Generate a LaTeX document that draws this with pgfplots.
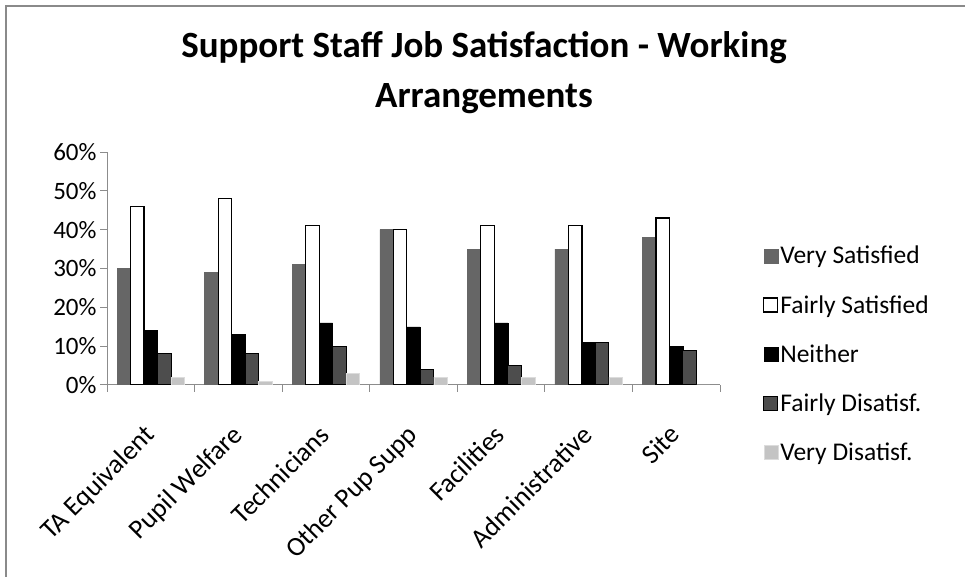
\documentclass[border=0pt]{standalone}
\usepackage{fontspec}
\setmainfont{Carlito}
\usepackage{pgfplots}
\pgfplotsset{compat=1.18}
\definecolor{vsat}{HTML}{666666}
\definecolor{fdis}{HTML}{4D4D4D}
\definecolor{vdis}{HTML}{C4C4C4}
\definecolor{axgray}{HTML}{8C8C8C}
\definecolor{framegray}{HTML}{8A8A8A}
\begin{document}
\begin{tikzpicture}[x=1pt,y=1pt]
\begin{axis}[
  scale only axis,
  width=613pt, height=233pt,
  ybar=0pt, bar width=0.154,
  xmin=-0.5, xmax=6.5, ymin=0, ymax=60,
  axis x line*=bottom, axis y line*=left,
  axis line style={axgray, line width=1pt},
  tick style={axgray, line width=1pt},
  tick align=outside, major tick length=7pt,
  ytick={0,10,...,60},
  yticklabel={\pgfmathprintnumber{\tick}\%},
  /pgf/number format/assume math mode=true,
  tick label style={font=\fontsize{25}{30}\selectfont, black},
  xtick={-0.5,0.5,...,6.5}, xticklabels={},
  extra x ticks={0,1,2,3,4,5,6},
  extra x tick labels={TA Equivalent,Pupil Welfare,Technicians,Other Pup Supp,Facilities,Administrative,Site},
  extra x tick style={major tick length=0pt, xticklabel style={xshift=-8pt, yshift=-38pt, rotate=45, anchor=north east, inner sep=0pt, font=\fontsize{27}{32}\selectfont}},
  legend style={at={(axis description cs:1.07,0.605)}, anchor=north west, draw=none, fill=none,
    font=\fontsize{25.5}{30}\selectfont, row sep=26pt, inner sep=0pt,
    /tikz/every even column/.append style={column sep=6pt}},
  legend cell align=left,
  legend image code/.code={\draw[#1] (0pt,-7pt) rectangle (14pt,7pt);},
]
\addplot[fill=vsat, draw=vsat] coordinates {(0,30) (1,29) (2,31) (3,40) (4,35) (5,35) (6,38)};
\addplot[fill=white, draw=black, line width=1.2pt] coordinates {(0,46) (1,48) (2,41) (3,40) (4,41) (5,41) (6,43)};
\addplot[fill=black, draw=black] coordinates {(0,14) (1,13) (2,16) (3,15) (4,16) (5,11) (6,10)};
\addplot[fill=fdis, draw=black, line width=1pt] coordinates {(0,8) (1,8) (2,10) (3,4) (4,5) (5,11) (6,9)};
\addplot[fill=vdis, draw=vdis!60!white] coordinates {(0,2) (1,1) (2,3) (3,2) (4,2) (5,2) (6,0)};
\legend{Very Satisfied, Fairly Satisfied, Neither, Fairly Disatisf., Very Disatisf.}
\coordinate (O) at (rel axis cs:0,0);
\end{axis}
\begin{scope}[shift={(O)}, xshift=-107pt, yshift=-192pt]
\useasboundingbox (0,0) rectangle (965,577);
\draw[framegray, line width=2pt] (6,0) -- (6,571) -- (965,571);
\node[font=\fontsize{37}{50}\selectfont\bfseries, align=center] at (484,504) {Support Staff Job Satisfaction - Working\\Arrangements};
\end{scope}
\end{tikzpicture}
\end{document}
